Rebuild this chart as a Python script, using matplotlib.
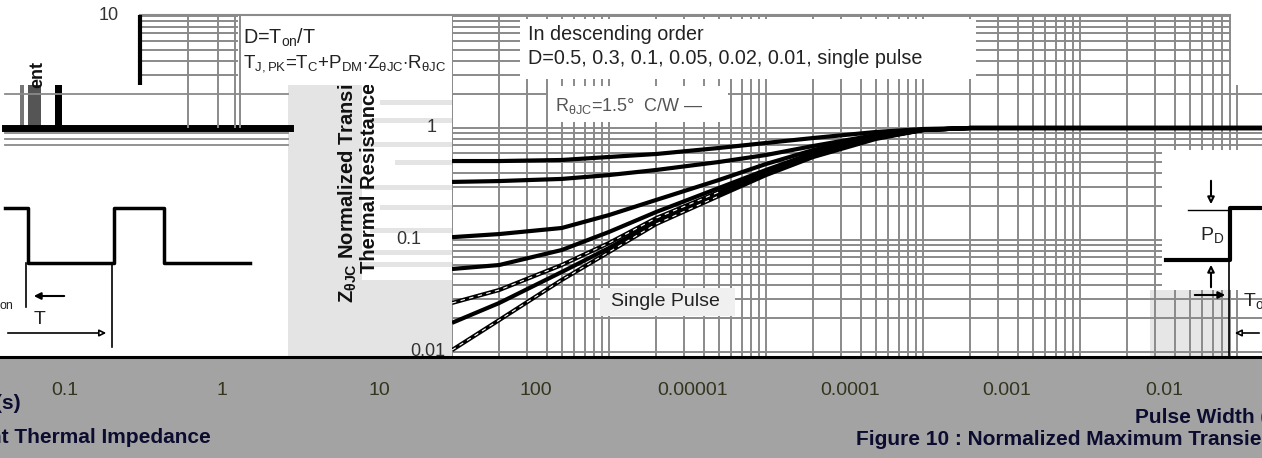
import numpy as np
import matplotlib
matplotlib.use('Agg')
import matplotlib.pyplot as plt
import matplotlib.transforms as mtrans
from matplotlib.patches import Rectangle
from matplotlib.ticker import LogLocator, NullFormatter, NullLocator

plt.rcParams['font.family'] = ['Liberation Sans', 'DejaVu Sans']
plt.rcParams['mathtext.fontset'] = 'custom'
plt.rcParams['mathtext.rm'] = 'Liberation Sans'
plt.rcParams['mathtext.it'] = 'Liberation Sans:italic'
plt.rcParams['mathtext.bf'] = 'Liberation Sans:bold'

W, H = 1262, 458

# pulse width (s) and normalized transient thermal impedance
t_pulse = [1e-5, 2e-5, 5e-5, 1e-4, 2e-4, 5e-4, 1e-3, 2e-3, 5e-3, 1e-2, 2e-2, 1.5]
z_d050 = [0.507, 0.507, 0.518, 0.551, 0.586, 0.663, 0.735, 0.814, 0.921, 0.980, 1.0, 1.0]
z_d030 = [0.330, 0.336, 0.351, 0.380, 0.422, 0.497, 0.574, 0.691, 0.866, 0.960, 1.0, 1.0]
z_d010 = [0.106, 0.113, 0.128, 0.167, 0.228, 0.343, 0.477, 0.636, 0.848, 0.960, 1.0, 1.0]
z_d005 = [0.0551, 0.0598, 0.0814, 0.118, 0.178, 0.291, 0.422, 0.598, 0.831, 0.960, 1.0, 1.0]
z_d002 = [0.0274, 0.0358, 0.0598, 0.094, 0.157, 0.268, 0.405, 0.574, 0.814, 0.960, 1.0, 1.0]
z_d001 = [0.0182, 0.0274, 0.0518, 0.0848, 0.148, 0.257, 0.396, 0.562, 0.814, 0.960, 1.0, 1.0]
z_single = [0.0104, 0.0193, 0.044, 0.0781, 0.139, 0.247, 0.380, 0.551, 0.798, 0.960, 1.0, 1.0]
curves = [z_d050, z_d030, z_d010, z_d005, z_d002, z_d001, z_single]

# y axis labels and the (glitched) pulse width labels of the bottom band
ytick_vals = [10, 1, 0.1, 0.01]
ytick_text = ['10', '1', '0.1', '0.01']
band_ticks = [0.1, 1, 10, 100, 1e3, 1e4, 1e5, 1e6]
band_labels = ['0.1', '1', '10', '100', '0.00001', '0.0001', '0.001', '0.01']
# grid rows / columns of the top-left fragment and rows running into the left sketch
tl_rows = [3, 4, 5, 6, 7, 8, 9, 10]
tl_cols = [3, 6, 9, 10]
left_rows = [2, 0.9, 0.8, 0.7]


def box(x0, y0, x1, y1):
    # pixel rectangle (top-left origin) -> figure fraction
    return [x0 / W, 1 - y1 / H, (x1 - x0) / W, (y1 - y0) / H]


def log_grid(a):
    a.set_xscale('log')
    a.set_yscale('log')
    a.xaxis.set_major_locator(LogLocator(base=10, numticks=50))
    a.yaxis.set_major_locator(LogLocator(base=10, numticks=50))
    a.xaxis.set_minor_locator(LogLocator(base=10, subs=np.arange(2, 10), numticks=50))
    a.yaxis.set_minor_locator(LogLocator(base=10, subs=np.arange(2, 10), numticks=50))
    for axis in [a.xaxis, a.yaxis]:
        axis.set_major_formatter(NullFormatter())
        axis.set_minor_formatter(NullFormatter())
    a.tick_params(which='both', length=0)
    a.grid(which='both', color='#8a8a8a', lw=1.4)
    a.patch.set_alpha(0)
    for s in a.spines.values():
        s.set_visible(False)


fig = plt.figure(figsize=(W / 100, H / 100), dpi=100)

# background layer
ov = fig.add_axes([0, 0, 1, 1], zorder=0)
ov.set_xlim(0, W)
ov.set_ylim(H, 0)
ov.axis('off')
ov.add_patch(Rectangle((1150, 290), 80, 67, color='#e6e6e6', lw=0))

ylo, yhi = 10 ** (-229 / 112), 10 ** (113 / 112)

# main chart
ax = fig.add_axes(box(452, 15, 1262, 357), zorder=1)
log_grid(ax)
ax.set_xlim(1e-5, 10 ** (-5 + 810 / 157))
ax.set_ylim(ylo, yhi)
for z in curves:
    ax.plot(t_pulse, z, color='black', lw=3.0, solid_capstyle='butt', zorder=3)
for z in [z_d002, z_single]:
    ax.plot(t_pulse[:6], z[:6], color='white', lw=0.8, ls=(0, (4, 4)), zorder=4)

# grey panel holding the rotated y label
panel = fig.add_axes(box(288, 85, 452, 357), zorder=2)
panel.set_facecolor('#e4e4e4')
panel.set_xlim(288, 452)
panel.set_ylim(357, 85)
panel.set_xticks([])
panel.set_yticks([])
for s in panel.spines.values():
    s.set_visible(False)
panel.add_patch(Rectangle((362, 85), 90, 195, color='white', lw=0))
for yb, xb in [(100, 380), (118, 370), (142, 362), (160, 395), (185, 365),
               (205, 380), (228, 370), (250, 362), (262, 300)]:
    panel.add_patch(Rectangle((xb, yb), 452 - xb, 5, color='#e4e4e4', lw=0))
for xp, yp, lab in [(348, 303, r'Z$_{\mathbf{\theta JC}}$ Normalized Transient'),
                    (369, 273, 'Thermal Resistance')]:
    panel.text(xp, yp, lab, rotation=90, ha='center', va='bottom',
               fontsize=14.5, fontweight='bold', color='#111111', clip_on=True)

# bottom band with the pulse width labels
band = fig.add_axes(box(0, 357, 1262, 458), zorder=4)
band.set_facecolor('#a3a3a3')
band.set_xscale('log')
band.set_xlim(10 ** -1.414, 10 ** 6.624)
band.set_ylim(0, 1)
band.xaxis.set_major_locator(NullLocator())
band.xaxis.set_minor_locator(NullLocator())
band.set_yticks([])
for s in ['left', 'right', 'bottom']:
    band.spines[s].set_visible(False)
band.spines['top'].set_linewidth(2.2)
bt = mtrans.blended_transform_factory(band.transData, band.transAxes)
for v, lab in zip(band_ticks, band_labels):
    band.text(v, 0.67, lab, transform=bt, ha='center', va='center',
              fontsize=14, color='#34341f')
navy = '#0c0c30'
bold = dict(fontsize=15, fontweight='bold', color=navy, va='center',
            transform=band.transAxes)
band.text(-0.004, 0.54, '(s)', ha='left', **bold)
band.text(-0.0085, 0.20, 'nt Thermal Impedance', ha='left', **bold)
band.text(1.004, 0.40, 'Pulse Width (', ha='right', **bold)
band.text(1.01, 0.18, 'Figure 10 : Normalized Maximum Transien', ha='right', **bold)

# overlay: text boxes, axis labels, pulse sketches
top = fig.add_axes([0, 0, 1, 1], zorder=3)
top.set_xlim(0, W)
top.set_ylim(H, 0)
top.axis('off')
yt = mtrans.blended_transform_factory(top.transData, ax.transData)
top.plot([140, 1230], [15, 15], color='#8a8a8a', lw=1.5)
top.add_patch(Rectangle((236, 17), 214, 66, color='white', lw=0))
top.add_patch(Rectangle((520, 19), 456, 60, color='white', lw=0))
top.add_patch(Rectangle((548, 86), 180, 36, color='white', lw=0))
top.add_patch(Rectangle((1231, 0), 31, 85, color='white', lw=0))
top.add_patch(Rectangle((1162, 150), 100, 140, color='white', lw=0))
top.add_patch(Rectangle((600, 288), 135, 28, color='#f0f0f0', lw=0))
txt = dict(fontsize=14.2, color='#222222', va='center', ha='left')
top.text(243, 38, r'D=T$_{\mathrm{on}}$/T', **txt)
top.text(243, 64, r'T$_{\mathrm{J,PK}}$=T$_{\mathrm{C}}$+P$_{\mathrm{DM}}$'
         r'$\cdot$Z$_{\mathrm{\theta JC}}$$\cdot$R$_{\mathrm{\theta JC}}$',
         fontsize=13.5, color='#222222', va='center', ha='left')
top.text(528, 34, 'In descending order', **txt)
top.text(528, 58, 'D=0.5, 0.3, 0.1, 0.05, 0.02, 0.01, single pulse', **txt)
top.text(555, 106, r'R$_{\mathrm{\theta JC}}$=1.5°  C/W —', fontsize=13,
         color='#555555', va='center', ha='left')
top.text(611, 302, 'Single Pulse', fontsize=14, color='#222222', va='center',
         ha='left')

# y axis labels, placed with the main chart's y scale
for v, lab, xp in zip(ytick_vals, ytick_text, [119, 437, 421, 445]):
    top.text(xp, v, lab, transform=yt, ha='right', va='center', fontsize=13,
             color='#333333')

top.text(38, 75, 'ent', rotation=90, ha='center', va='center', fontsize=13,
         fontweight='bold', color='#111111')
for v in left_rows:
    top.plot([5, 288], [v, v], transform=yt, color='#8a8a8a', lw=1.3)
top.plot([5, 290], [1, 1], transform=yt, color='black', lw=5)
for xb, wb, cb in [(20, 4, '#777777'), (28, 13, '#555555'), (55, 7, 'black')]:
    top.add_patch(Rectangle((xb, 85), wb, 43, color=cb, lw=0))

# left pulse sketch
top.plot([5, 28, 28, 114, 114, 164, 164, 250],
         [208, 208, 263, 263, 208, 208, 263, 263], color='black', lw=2.5)
top.plot([26, 26], [263, 307], color='black', lw=1.2)
top.plot([112, 112], [263, 347], color='black', lw=1.2)
top.annotate('', xy=(31, 296), xytext=(67, 296),
             arrowprops=dict(arrowstyle='-|>', color='black', lw=1.5))
top.annotate('', xy=(109, 333), xytext=(5, 333),
             arrowprops=dict(arrowstyle='-|>', color='black', lw=1.2, fc='white'))
top.text(0, 306, 'on', fontsize=9, va='center', ha='left', color='#222222')
top.text(40, 320, 'T', fontsize=14, va='center', ha='center', color='#222222')

# right pulse sketch
top.plot([1166, 1230, 1230, 1262], [260, 260, 208, 208], color='black', lw=3)
top.plot([1188, 1230], [210, 210], color='black', lw=1)
top.plot([1229, 1229], [262, 357], color='black', lw=1.2)
top.text(1212, 235, r'P$_{\mathrm{D}}$', fontsize=14, ha='center', va='center',
         color='#222222')
top.annotate('', xy=(1211, 207), xytext=(1211, 178),
             arrowprops=dict(arrowstyle='-|>', color='black', lw=1.5, fc='white'))
top.annotate('', xy=(1211, 262), xytext=(1211, 290),
             arrowprops=dict(arrowstyle='-|>', color='black', lw=1.5, fc='white'))
top.annotate('', xy=(1228, 295), xytext=(1192, 295),
             arrowprops=dict(arrowstyle='-|>', color='black', lw=1.5))
top.annotate('', xy=(1232, 333), xytext=(1262, 333),
             arrowprops=dict(arrowstyle='-|>', color='black', lw=1.2, fc='white'))
top.text(1243, 301, r'T$_{\mathrm{o}}$', fontsize=14, ha='left', va='center',
         color='#222222')

# top-left grid fragment, drawn last on its own axes (same y scale as the chart)
tlg = fig.add_axes(box(140, 15, 240, 128), zorder=6)
tlg.set_xscale('log')
tlg.set_yscale('log')
tlg.set_xlim(1, 10)
tlg.set_ylim(1, yhi)
tlg.axis('off')
tlg.hlines(tl_rows, 1, 9.5, colors='#8a8a8a', lw=1.4, clip_on=False)
tlg.vlines(tl_cols, 1, yhi, colors='#8a8a8a', lw=1.4, clip_on=False)
tlg.vlines([1], 10 ** (43 / 112), yhi, colors='black', lw=3, clip_on=False)

fig.savefig('out.png', dpi=100)
